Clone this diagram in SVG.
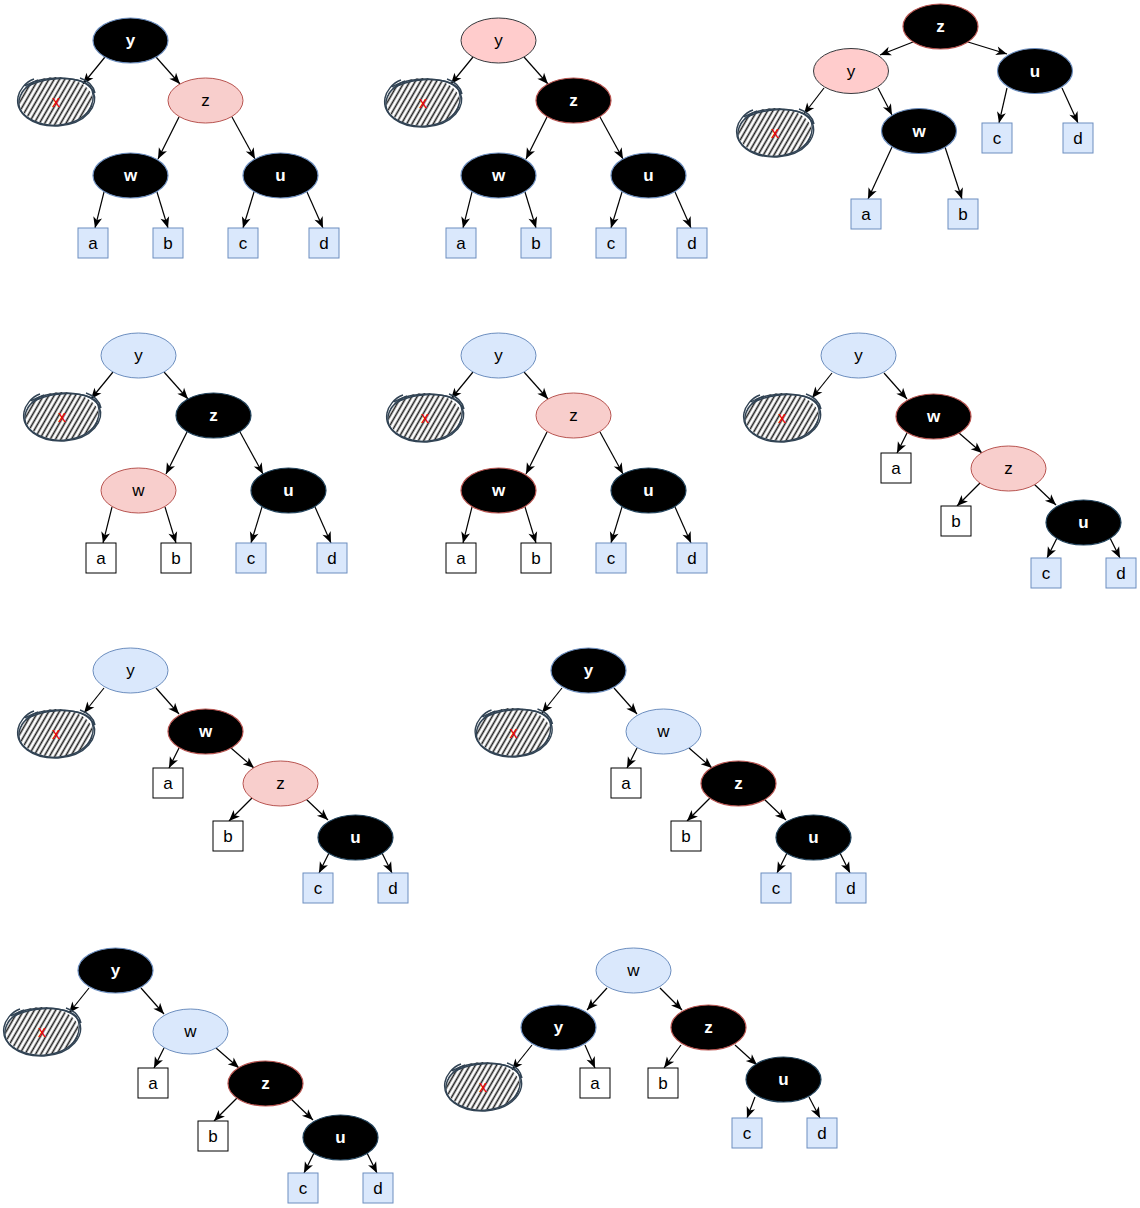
<svg xmlns="http://www.w3.org/2000/svg" xmlns:xlink="http://www.w3.org/1999/xlink" width="1140" height="1208" viewBox="0 0 1140 1208">
<style>
.blk{fill:#000;stroke-width:1.2}
.sb{stroke:#6c8ebf}
.sr{stroke:#b85450}
.sd{stroke:#23445d}
.pk{fill:#f8cecc;stroke:#b85450}
.pk2{fill:#ffcccc;stroke:#36393d}
.lb{fill:#dae8fc;stroke:#6c8ebf}
.wb{fill:#fff;stroke:#000}
text{font-family:"Liberation Sans",Arial,sans-serif;font-size:17px;text-anchor:middle;dominant-baseline:central}
.tw{fill:#fff;font-weight:bold}
.tk{fill:#000}
.tx{fill:#ee0000;font-size:16px}
.conn line{stroke:#000;stroke-width:1.2;marker-end:url(#arr)}
.ho{fill:none;stroke:#314354;stroke-width:1.4}
</style>
<defs>
<marker id="arr" markerUnits="userSpaceOnUse" markerWidth="12" markerHeight="10" refX="11" refY="4.5" orient="auto" overflow="visible">
<path d="M0,0 L11,4.5 L0,9 L3,4.5 Z" fill="#000"/>
</marker>
<pattern id="hatch" patternUnits="userSpaceOnUse" width="4.6" height="10" patternTransform="rotate(30)">
<line x1="1.4" y1="0" x2="1.4" y2="10" stroke="#1e1e1e" stroke-width="1.6"/>
</pattern>
<g id="hx">
<ellipse cx="0" cy="0" rx="37" ry="24" fill="url(#hatch)"/>
<path class="ho" d="M-35,-6 C-31,-23 20,-28 34,-15 C41,-4 37,17 10,23 C-12,28 -39,17 -37,0 C-36,-8 -29,-17 -18,-21"/>
<path class="ho" d="M-31,-15 C-14,-26 27,-27 37,-10 C43,4 31,23 2,25 C-24,26 -41,12 -38,-4 C-37,-10 -31,-19 -22,-22 M24,-23 C30,-21 37,-17 39,-8"/>
</g>
</defs>
<rect width="1140" height="1208" fill="#fff"/>

<!-- Tree 1 -->
<g id="tree1" transform="translate(93,18)">
<g class="conn" id="t1-edges">
<line x1="12" y1="39" x2="-10" y2="66"/>
<line x1="63" y1="39" x2="87" y2="66"/>
<line x1="86" y1="99" x2="65" y2="141"/>
<line x1="139" y1="99" x2="162" y2="141"/>
<line x1="11" y1="174" x2="2" y2="210"/>
<line x1="64" y1="174" x2="75" y2="210"/>
<line x1="161" y1="174" x2="150" y2="210"/>
<line x1="214" y1="174" x2="230" y2="210"/>
</g>
<g id="t1-y"><ellipse class="blk sb" cx="37.5" cy="22.5" rx="37.5" ry="22.5"/><text class="tw" x="37.5" y="22.5">y</text></g>
<g id="t1-x"><use href="#hx" x="-37" y="83"/><text class="tx" x="-37" y="83">x</text></g>
<g id="t1-z"><ellipse class="pk" cx="112.5" cy="82.5" rx="37.5" ry="22.5"/><text class="tk" x="112.5" y="82.5">z</text></g>
<g id="t1-w"><ellipse class="blk sb" cx="37.5" cy="157.5" rx="37.5" ry="22.5"/><text class="tw" x="37.5" y="157.5">w</text></g>
<g id="t1-u"><ellipse class="blk sb" cx="187.5" cy="157.5" rx="37.5" ry="22.5"/><text class="tw" x="187.5" y="157.5">u</text></g>
<g id="t1-a"><rect class="lb" x="-15" y="210" width="30" height="30"/><text class="tk" x="0" y="225">a</text></g>
<g id="t1-b"><rect class="lb" x="60" y="210" width="30" height="30"/><text class="tk" x="75" y="225">b</text></g>
<g id="t1-c"><rect class="lb" x="135" y="210" width="30" height="30"/><text class="tk" x="150" y="225">c</text></g>
<g id="t1-d"><rect class="lb" x="216" y="210" width="30" height="30"/><text class="tk" x="231" y="225">d</text></g>
</g>

<!-- Tree 2 -->
<g id="tree2" transform="translate(461,18)">
<g class="conn" id="t2-edges">
<line x1="12" y1="39" x2="-10" y2="66"/>
<line x1="63" y1="39" x2="87" y2="66"/>
<line x1="86" y1="99" x2="65" y2="141"/>
<line x1="139" y1="99" x2="162" y2="141"/>
<line x1="11" y1="174" x2="2" y2="210"/>
<line x1="64" y1="174" x2="75" y2="210"/>
<line x1="161" y1="174" x2="150" y2="210"/>
<line x1="214" y1="174" x2="230" y2="210"/>
</g>
<g id="t2-y"><ellipse class="pk2" cx="37.5" cy="22.5" rx="37.5" ry="22.5"/><text class="tk" x="37.5" y="22.5">y</text></g>
<g id="t2-x"><use href="#hx" x="-38" y="84"/><text class="tx" x="-38" y="84">x</text></g>
<g id="t2-z"><ellipse class="blk sr" cx="112.5" cy="82.5" rx="37.5" ry="22.5"/><text class="tw" x="112.5" y="82.5">z</text></g>
<g id="t2-w"><ellipse class="blk sb" cx="37.5" cy="157.5" rx="37.5" ry="22.5"/><text class="tw" x="37.5" y="157.5">w</text></g>
<g id="t2-u"><ellipse class="blk sb" cx="187.5" cy="157.5" rx="37.5" ry="22.5"/><text class="tw" x="187.5" y="157.5">u</text></g>
<g id="t2-a"><rect class="lb" x="-15" y="210" width="30" height="30"/><text class="tk" x="0" y="225">a</text></g>
<g id="t2-b"><rect class="lb" x="60" y="210" width="30" height="30"/><text class="tk" x="75" y="225">b</text></g>
<g id="t2-c"><rect class="lb" x="135" y="210" width="30" height="30"/><text class="tk" x="150" y="225">c</text></g>
<g id="t2-d"><rect class="lb" x="216" y="210" width="30" height="30"/><text class="tk" x="231" y="225">d</text></g>
</g>

<!-- Tree 3 -->
<g id="tree3">
<g class="conn" id="t3-edges">
<line x1="913" y1="42" x2="880" y2="55"/>
<line x1="968" y1="42" x2="1007" y2="54"/>
<line x1="824" y1="88" x2="804" y2="114"/>
<line x1="878" y1="88" x2="892" y2="115"/>
<line x1="1007" y1="88" x2="999" y2="123"/>
<line x1="1062" y1="88" x2="1078" y2="123"/>
<line x1="892" y1="147" x2="868" y2="199"/>
<line x1="945" y1="147" x2="962" y2="199"/>
</g>
<g id="t3-z"><ellipse class="blk sr" cx="940.5" cy="26.5" rx="37.5" ry="22.5"/><text class="tw" x="940.5" y="26.5">z</text></g>
<g id="t3-y"><ellipse class="pk2" cx="851" cy="71" rx="37.5" ry="22.5"/><text class="tk" x="851" y="71">y</text></g>
<g id="t3-u"><ellipse class="blk sb" cx="1035" cy="71" rx="37.5" ry="22.5"/><text class="tw" x="1035" y="71">u</text></g>
<g id="t3-x"><use href="#hx" x="775" y="132"/><text class="tx" x="775" y="132">x</text></g>
<g id="t3-w"><ellipse class="blk sb" cx="919" cy="131" rx="37.5" ry="22.5"/><text class="tw" x="919" y="131">w</text></g>
<g id="t3-a"><rect class="lb" x="851" y="199" width="30" height="30"/><text class="tk" x="866" y="214">a</text></g>
<g id="t3-b"><rect class="lb" x="948" y="199" width="30" height="30"/><text class="tk" x="963" y="214">b</text></g>
<g id="t3-c"><rect class="lb" x="982" y="123" width="30" height="30"/><text class="tk" x="997" y="138">c</text></g>
<g id="t3-d"><rect class="lb" x="1063" y="123" width="30" height="30"/><text class="tk" x="1078" y="138">d</text></g>
</g>

<!-- Tree 4 -->
<g id="tree4" transform="translate(101,333)">
<g class="conn" id="t4-edges">
<line x1="12" y1="39" x2="-10" y2="66"/>
<line x1="63" y1="39" x2="87" y2="66"/>
<line x1="86" y1="99" x2="65" y2="141"/>
<line x1="139" y1="99" x2="162" y2="141"/>
<line x1="11" y1="174" x2="2" y2="210"/>
<line x1="64" y1="174" x2="75" y2="210"/>
<line x1="161" y1="174" x2="150" y2="210"/>
<line x1="214" y1="174" x2="230" y2="210"/>
</g>
<g id="t4-y"><ellipse class="lb" cx="37.5" cy="22.5" rx="37.5" ry="22.5"/><text class="tk" x="37.5" y="22.5">y</text></g>
<g id="t4-x"><use href="#hx" x="-39" y="83"/><text class="tx" x="-39" y="83">x</text></g>
<g id="t4-z"><ellipse class="blk sd" cx="112.5" cy="82.5" rx="37.5" ry="22.5"/><text class="tw" x="112.5" y="82.5">z</text></g>
<g id="t4-w"><ellipse class="pk" cx="37.5" cy="157.5" rx="37.5" ry="22.5"/><text class="tk" x="37.5" y="157.5">w</text></g>
<g id="t4-u"><ellipse class="blk sd" cx="187.5" cy="157.5" rx="37.5" ry="22.5"/><text class="tw" x="187.5" y="157.5">u</text></g>
<g id="t4-a"><rect class="wb" x="-15" y="210" width="30" height="30"/><text class="tk" x="0" y="225">a</text></g>
<g id="t4-b"><rect class="wb" x="60" y="210" width="30" height="30"/><text class="tk" x="75" y="225">b</text></g>
<g id="t4-c"><rect class="lb" x="135" y="210" width="30" height="30"/><text class="tk" x="150" y="225">c</text></g>
<g id="t4-d"><rect class="lb" x="216" y="210" width="30" height="30"/><text class="tk" x="231" y="225">d</text></g>
</g>

<!-- Tree 5 -->
<g id="tree5" transform="translate(461,333)">
<g class="conn" id="t5-edges">
<line x1="12" y1="39" x2="-10" y2="66"/>
<line x1="63" y1="39" x2="87" y2="66"/>
<line x1="86" y1="99" x2="65" y2="141"/>
<line x1="139" y1="99" x2="162" y2="141"/>
<line x1="11" y1="174" x2="2" y2="210"/>
<line x1="64" y1="174" x2="75" y2="210"/>
<line x1="161" y1="174" x2="150" y2="210"/>
<line x1="214" y1="174" x2="230" y2="210"/>
</g>
<g id="t5-y"><ellipse class="lb" cx="37.5" cy="22.5" rx="37.5" ry="22.5"/><text class="tk" x="37.5" y="22.5">y</text></g>
<g id="t5-x"><use href="#hx" x="-36" y="84"/><text class="tx" x="-36" y="84">x</text></g>
<g id="t5-z"><ellipse class="pk" cx="112.5" cy="82.5" rx="37.5" ry="22.5"/><text class="tk" x="112.5" y="82.5">z</text></g>
<g id="t5-w"><ellipse class="blk sr" cx="37.5" cy="157.5" rx="37.5" ry="22.5"/><text class="tw" x="37.5" y="157.5">w</text></g>
<g id="t5-u"><ellipse class="blk sd" cx="187.5" cy="157.5" rx="37.5" ry="22.5"/><text class="tw" x="187.5" y="157.5">u</text></g>
<g id="t5-a"><rect class="wb" x="-15" y="210" width="30" height="30"/><text class="tk" x="0" y="225">a</text></g>
<g id="t5-b"><rect class="wb" x="60" y="210" width="30" height="30"/><text class="tk" x="75" y="225">b</text></g>
<g id="t5-c"><rect class="lb" x="135" y="210" width="30" height="30"/><text class="tk" x="150" y="225">c</text></g>
<g id="t5-d"><rect class="lb" x="216" y="210" width="30" height="30"/><text class="tk" x="231" y="225">d</text></g>
</g>

<!-- Tree 6 -->
<g id="tree6" transform="translate(821,333)">
<g class="conn" id="t6-edges">
<line x1="11" y1="40" x2="-9" y2="65"/>
<line x1="63" y1="40" x2="86" y2="66"/>
<line x1="86" y1="100" x2="76" y2="120"/>
<line x1="138" y1="100" x2="161" y2="120"/>
<line x1="159" y1="150" x2="136" y2="173"/>
<line x1="213" y1="151" x2="235" y2="172"/>
<line x1="236" y1="205" x2="226" y2="225"/>
<line x1="289" y1="205" x2="299" y2="225"/>
</g>
<g id="t6-y"><ellipse class="lb" cx="37.5" cy="22.5" rx="37.5" ry="22.5"/><text class="tk" x="37.5" y="22.5">y</text></g>
<g id="t6-x"><use href="#hx" x="-39" y="84"/><text class="tx" x="-39" y="84">x</text></g>
<g id="t6-w"><ellipse class="blk sr" cx="112.5" cy="83.5" rx="37.5" ry="22.5"/><text class="tw" x="112.5" y="83.5">w</text></g>
<g id="t6-a"><rect class="wb" x="60" y="120" width="30" height="30"/><text class="tk" x="75" y="135">a</text></g>
<g id="t6-z"><ellipse class="pk" cx="187.5" cy="135.5" rx="37.5" ry="22.5"/><text class="tk" x="187.5" y="135.5">z</text></g>
<g id="t6-b"><rect class="wb" x="120" y="173" width="30" height="30"/><text class="tk" x="135" y="188">b</text></g>
<g id="t6-u"><ellipse class="blk sd" cx="262.5" cy="189.5" rx="37.5" ry="22.5"/><text class="tw" x="262.5" y="189.5">u</text></g>
<g id="t6-c"><rect class="lb" x="210" y="225" width="30" height="30"/><text class="tk" x="225" y="240">c</text></g>
<g id="t6-d"><rect class="lb" x="285" y="225" width="30" height="30"/><text class="tk" x="300" y="240">d</text></g>
</g>

<!-- Tree 7 -->
<g id="tree7" transform="translate(93,648)">
<g class="conn" id="t7-edges">
<line x1="11" y1="40" x2="-9" y2="65"/>
<line x1="63" y1="40" x2="86" y2="66"/>
<line x1="86" y1="100" x2="76" y2="120"/>
<line x1="138" y1="100" x2="161" y2="120"/>
<line x1="159" y1="150" x2="136" y2="173"/>
<line x1="213" y1="151" x2="235" y2="172"/>
<line x1="236" y1="205" x2="226" y2="225"/>
<line x1="289" y1="205" x2="299" y2="225"/>
</g>
<g id="t7-y"><ellipse class="lb" cx="37.5" cy="22.5" rx="37.5" ry="22.5"/><text class="tk" x="37.5" y="22.5">y</text></g>
<g id="t7-x"><use href="#hx" x="-37" y="85"/><text class="tx" x="-37" y="85">x</text></g>
<g id="t7-w"><ellipse class="blk sr" cx="112.5" cy="83.5" rx="37.5" ry="22.5"/><text class="tw" x="112.5" y="83.5">w</text></g>
<g id="t7-a"><rect class="wb" x="60" y="120" width="30" height="30"/><text class="tk" x="75" y="135">a</text></g>
<g id="t7-z"><ellipse class="pk" cx="187.5" cy="135.5" rx="37.5" ry="22.5"/><text class="tk" x="187.5" y="135.5">z</text></g>
<g id="t7-b"><rect class="wb" x="120" y="173" width="30" height="30"/><text class="tk" x="135" y="188">b</text></g>
<g id="t7-u"><ellipse class="blk sd" cx="262.5" cy="189.5" rx="37.5" ry="22.5"/><text class="tw" x="262.5" y="189.5">u</text></g>
<g id="t7-c"><rect class="lb" x="210" y="225" width="30" height="30"/><text class="tk" x="225" y="240">c</text></g>
<g id="t7-d"><rect class="lb" x="285" y="225" width="30" height="30"/><text class="tk" x="300" y="240">d</text></g>
</g>

<!-- Tree 8 -->
<g id="tree8" transform="translate(551,648)">
<g class="conn" id="t8-edges">
<line x1="11" y1="40" x2="-9" y2="65"/>
<line x1="63" y1="40" x2="86" y2="66"/>
<line x1="86" y1="100" x2="76" y2="120"/>
<line x1="138" y1="100" x2="161" y2="120"/>
<line x1="159" y1="150" x2="136" y2="173"/>
<line x1="213" y1="151" x2="235" y2="172"/>
<line x1="236" y1="205" x2="226" y2="225"/>
<line x1="289" y1="205" x2="299" y2="225"/>
</g>
<g id="t8-y"><ellipse class="blk sb" cx="37.5" cy="22.5" rx="37.5" ry="22.5"/><text class="tw" x="37.5" y="22.5">y</text></g>
<g id="t8-x"><use href="#hx" x="-37.5" y="84"/><text class="tx" x="-37.5" y="84">x</text></g>
<g id="t8-w"><ellipse class="lb" cx="112.5" cy="83.5" rx="37.5" ry="22.5"/><text class="tk" x="112.5" y="83.5">w</text></g>
<g id="t8-a"><rect class="wb" x="60" y="120" width="30" height="30"/><text class="tk" x="75" y="135">a</text></g>
<g id="t8-z"><ellipse class="blk sr" cx="187.5" cy="135.5" rx="37.5" ry="22.5"/><text class="tw" x="187.5" y="135.5">z</text></g>
<g id="t8-b"><rect class="wb" x="120" y="173" width="30" height="30"/><text class="tk" x="135" y="188">b</text></g>
<g id="t8-u"><ellipse class="blk sd" cx="262.5" cy="189.5" rx="37.5" ry="22.5"/><text class="tw" x="262.5" y="189.5">u</text></g>
<g id="t8-c"><rect class="lb" x="210" y="225" width="30" height="30"/><text class="tk" x="225" y="240">c</text></g>
<g id="t8-d"><rect class="lb" x="285" y="225" width="30" height="30"/><text class="tk" x="300" y="240">d</text></g>
</g>

<!-- Tree 9 -->
<g id="tree9" transform="translate(78,948)">
<g class="conn" id="t9-edges">
<line x1="11" y1="40" x2="-9" y2="65"/>
<line x1="63" y1="40" x2="86" y2="66"/>
<line x1="86" y1="100" x2="76" y2="120"/>
<line x1="138" y1="100" x2="161" y2="120"/>
<line x1="159" y1="150" x2="136" y2="173"/>
<line x1="213" y1="151" x2="235" y2="172"/>
<line x1="236" y1="205" x2="226" y2="225"/>
<line x1="289" y1="205" x2="299" y2="225"/>
</g>
<g id="t9-y"><ellipse class="blk sb" cx="37.5" cy="22.5" rx="37.5" ry="22.5"/><text class="tw" x="37.5" y="22.5">y</text></g>
<g id="t9-x"><use href="#hx" x="-36" y="83"/><text class="tx" x="-36" y="83">x</text></g>
<g id="t9-w"><ellipse class="lb" cx="112.5" cy="83.5" rx="37.5" ry="22.5"/><text class="tk" x="112.5" y="83.5">w</text></g>
<g id="t9-a"><rect class="wb" x="60" y="120" width="30" height="30"/><text class="tk" x="75" y="135">a</text></g>
<g id="t9-z"><ellipse class="blk sr" cx="187.5" cy="135.5" rx="37.5" ry="22.5"/><text class="tw" x="187.5" y="135.5">z</text></g>
<g id="t9-b"><rect class="wb" x="120" y="173" width="30" height="30"/><text class="tk" x="135" y="188">b</text></g>
<g id="t9-u"><ellipse class="blk sd" cx="262.5" cy="189.5" rx="37.5" ry="22.5"/><text class="tw" x="262.5" y="189.5">u</text></g>
<g id="t9-c"><rect class="lb" x="210" y="225" width="30" height="30"/><text class="tk" x="225" y="240">c</text></g>
<g id="t9-d"><rect class="lb" x="285" y="225" width="30" height="30"/><text class="tk" x="300" y="240">d</text></g>
</g>

<!-- Tree 10 -->
<g id="tree10">
<g class="conn" id="t10-edges">
<line x1="607" y1="988" x2="587" y2="1010"/>
<line x1="660" y1="988" x2="682" y2="1010"/>
<line x1="532" y1="1045" x2="512" y2="1070"/>
<line x1="585" y1="1045" x2="595" y2="1068"/>
<line x1="681" y1="1045" x2="664" y2="1068"/>
<line x1="735" y1="1045" x2="757" y2="1065"/>
<line x1="755" y1="1097" x2="747" y2="1118"/>
<line x1="809" y1="1097" x2="820" y2="1118"/>
</g>
<g id="t10-w"><ellipse class="lb" cx="633.5" cy="970.5" rx="37.5" ry="22.5"/><text class="tk" x="633.5" y="970.5">w</text></g>
<g id="t10-y"><ellipse class="blk sb" cx="558.5" cy="1027.5" rx="37.5" ry="22.5"/><text class="tw" x="558.5" y="1027.5">y</text></g>
<g id="t10-z"><ellipse class="blk sr" cx="708.5" cy="1027.5" rx="37.5" ry="22.5"/><text class="tw" x="708.5" y="1027.5">z</text></g>
<g id="t10-x"><use href="#hx" x="483" y="1086"/><text class="tx" x="483" y="1086">x</text></g>
<g id="t10-a"><rect class="wb" x="580" y="1068" width="30" height="30"/><text class="tk" x="595" y="1083">a</text></g>
<g id="t10-b"><rect class="wb" x="648" y="1068" width="30" height="30"/><text class="tk" x="663" y="1083">b</text></g>
<g id="t10-u"><ellipse class="blk sd" cx="783.5" cy="1079.5" rx="37.5" ry="22.5"/><text class="tw" x="783.5" y="1079.5">u</text></g>
<g id="t10-c"><rect class="lb" x="732" y="1118" width="30" height="30"/><text class="tk" x="747" y="1133">c</text></g>
<g id="t10-d"><rect class="lb" x="807" y="1118" width="30" height="30"/><text class="tk" x="822" y="1133">d</text></g>
</g>
</svg>
